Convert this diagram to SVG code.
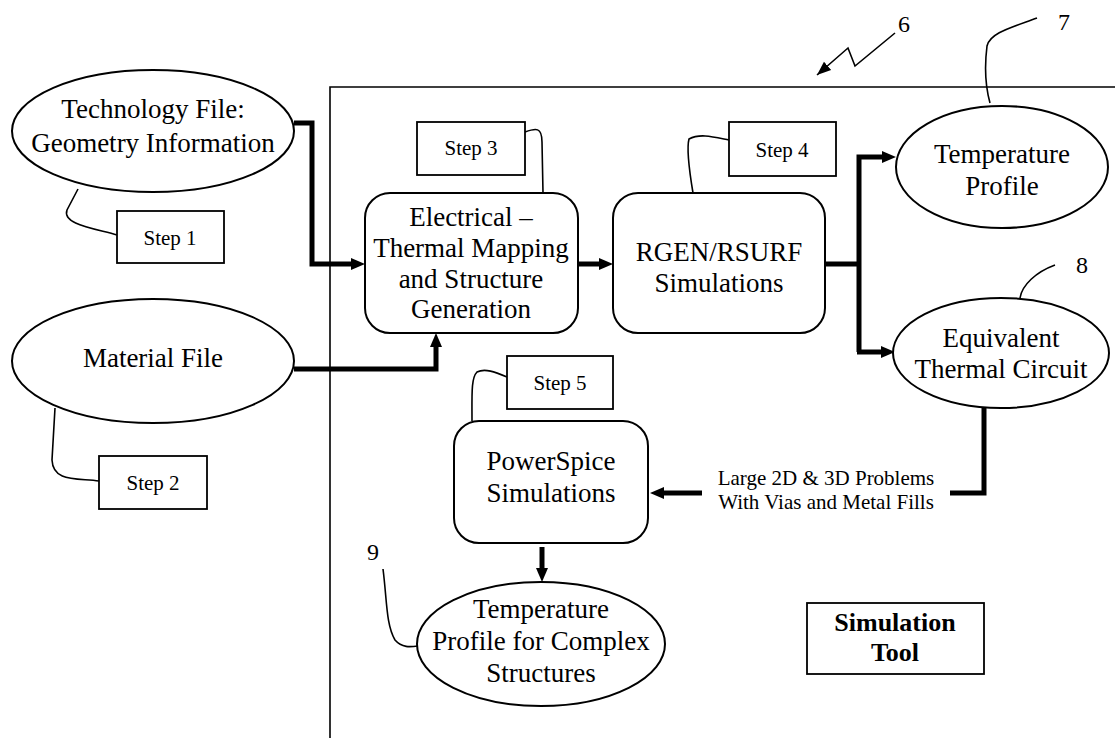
<svg xmlns="http://www.w3.org/2000/svg" width="1115" height="738" viewBox="0 0 1115 738">
  <style>
    text { font-family: "Liberation Serif", "Times New Roman", serif; fill: #000; }
    .lbl { font-size: 27px; text-anchor: middle; }
    .step { font-size: 21px; text-anchor: middle; }
    .ref { font-size: 24px; text-anchor: middle; }
    .note { font-size: 21px; text-anchor: middle; }
    .title { font-size: 26px; font-weight: bold; text-anchor: middle; }
    .node { fill: #fff; stroke: #000; stroke-width: 2; }
    .box { fill: #fff; stroke: #000; stroke-width: 1.8; }
    .frame { fill: none; stroke: #000; stroke-width: 1.6; }
    .lead { fill: none; stroke: #000; stroke-width: 1.6; }
    .flow { fill: none; stroke: #000; stroke-width: 5; stroke-linejoin: miter; }
  </style>
  <defs>
    <!-- head origin sits at the base so thick lines end under it -->
    <marker id="head" markerUnits="userSpaceOnUse" markerWidth="16" markerHeight="14" refX="0" refY="7" orient="auto" viewBox="0 0 16 14">
      <path d="M0,1 L14,7 L0,13 z" fill="#000"/>
    </marker>
    <marker id="thinhead" markerUnits="userSpaceOnUse" markerWidth="16" markerHeight="14" refX="14" refY="7" orient="auto" viewBox="0 0 16 14">
      <path d="M0,1.5 L14,7 L0,12.5 z" fill="#000"/>
    </marker>
  </defs>

  <!-- simulation tool boundary -->
  <g id="frame">
    <path class="frame" d="M330,738 L330,87 L1115,87"/>
  </g>

  <g id="connectors">
    <!-- technology file to mapping -->
    <path class="flow" d="M294,123 L312,123 L312,264 L351,264" marker-end="url(#head)"/>
    <!-- material file to mapping -->
    <path class="flow" d="M294,369 L436,369 L436,347" marker-end="url(#head)"/>
    <!-- mapping to RGEN/RSURF -->
    <path class="flow" d="M578,264 L599,264" marker-end="url(#head)"/>
    <!-- RGEN/RSURF fan-out -->
    <path class="flow" d="M825,264 L859,264"/>
    <path class="flow" d="M859,352 L859,157 L882,157" marker-end="url(#head)"/>
    <path class="flow" d="M857,352 L881,352" marker-end="url(#head)"/>
    <!-- equivalent circuit back to PowerSpice -->
    <path class="flow" d="M984,406 L984,493 L950,493"/>
    <path class="flow" d="M702,493 L664,493" marker-end="url(#head)"/>
    <!-- PowerSpice to complex temperature profile -->
    <path class="flow" d="M542,547 L542,568" marker-end="url(#head)"/>
    <!-- reference 6 zigzag pointer -->
    <path class="lead" d="M895,33 L855,66 L848,48 L817,75" marker-end="url(#thinhead)"/>
    <!-- step leaders -->
    <path class="lead" d="M117,235 C92,228 62,224 67,210 L78,189"/>
    <path class="lead" d="M99,481 C76,478 53,482 52,460 L55,408"/>
    <path class="lead" d="M525,132 C536,128 542,127 542,142 L543,193"/>
    <path class="lead" d="M729,140 C714,137 700,133 689,139 C686,150 690,175 693,193"/>
    <path class="lead" d="M507,377 C495,372 485,368 477,372 C471,378 472,395 472,421"/>
    <!-- reference number leaders -->
    <path class="lead" d="M1037,18 C1010,28 990,33 987,46 C985,62 985,85 990,103"/>
    <path class="lead" d="M1055,265 C1036,272 1022,285 1020,298"/>
    <path class="lead" d="M383,569 C387,600 386,625 395,640 C402,648 410,647 418,646"/>
  </g>

  <g id="tech-file">
    <ellipse class="node" cx="153" cy="131" rx="141" ry="61"/>
    <text class="lbl" x="153" y="118">Technology File:</text>
    <text class="lbl" x="153" y="152">Geometry Information</text>
  </g>

  <g id="step1">
    <rect class="box" x="117" y="211" width="107" height="52"/>
    <text class="step" x="170" y="245">Step 1</text>
  </g>

  <g id="material-file">
    <ellipse class="node" cx="153" cy="361" rx="141" ry="62"/>
    <text class="lbl" x="153" y="367">Material File</text>
  </g>

  <g id="step2">
    <rect class="box" x="99" y="456" width="108" height="53"/>
    <text class="step" x="153" y="490">Step 2</text>
  </g>

  <g id="mapping">
    <rect class="node" x="365" y="193" width="213" height="140" rx="25" ry="25"/>
    <text class="lbl" x="471" y="226">Electrical –</text>
    <text class="lbl" x="471" y="257">Thermal Mapping</text>
    <text class="lbl" x="471" y="288">and Structure</text>
    <text class="lbl" x="471" y="318">Generation</text>
  </g>

  <g id="step3">
    <rect class="box" x="417" y="122" width="108" height="53"/>
    <text class="step" x="471" y="155">Step 3</text>
  </g>

  <g id="rgen">
    <rect class="node" x="613" y="193" width="212" height="140" rx="25" ry="25"/>
    <text class="lbl" x="719" y="261">RGEN/RSURF</text>
    <text class="lbl" x="719" y="292">Simulations</text>
  </g>

  <g id="step4">
    <rect class="box" x="729" y="122" width="107" height="54"/>
    <text class="step" x="782" y="157">Step 4</text>
  </g>

  <g id="temp-profile">
    <ellipse class="node" cx="1002" cy="167" rx="106" ry="61"/>
    <text class="lbl" x="1002" y="163">Temperature</text>
    <text class="lbl" x="1002" y="195">Profile</text>
  </g>

  <g id="equiv-circuit">
    <ellipse class="node" cx="1001" cy="353" rx="108" ry="55"/>
    <text class="lbl" x="1001" y="347">Equivalent</text>
    <text class="lbl" x="1001" y="378">Thermal Circuit</text>
  </g>

  <g id="problems-label">
    <text class="note" x="826" y="485">Large 2D &amp; 3D Problems</text>
    <text class="note" x="826" y="509">With Vias and Metal Fills</text>
  </g>

  <g id="powerspice">
    <rect class="node" x="454" y="421" width="194" height="122" rx="25" ry="25"/>
    <text class="lbl" x="551" y="470">PowerSpice</text>
    <text class="lbl" x="551" y="502">Simulations</text>
  </g>

  <g id="step5">
    <rect class="box" x="507" y="356" width="106" height="53"/>
    <text class="step" x="560" y="390">Step 5</text>
  </g>

  <g id="complex-profile">
    <ellipse class="node" cx="541" cy="644" rx="124" ry="62"/>
    <text class="lbl" x="541" y="618">Temperature</text>
    <text class="lbl" x="541" y="650">Profile for Complex</text>
    <text class="lbl" x="541" y="682">Structures</text>
  </g>

  <g id="sim-tool">
    <rect class="box" x="807" y="603" width="177" height="71"/>
    <text class="title" x="895" y="631">Simulation</text>
    <text class="title" x="895" y="661">Tool</text>
  </g>

  <g id="refs">
    <text class="ref" x="904" y="32">6</text>
    <text class="ref" x="1064" y="30">7</text>
    <text class="ref" x="1082" y="273">8</text>
    <text class="ref" x="373" y="560">9</text>
  </g>
</svg>
